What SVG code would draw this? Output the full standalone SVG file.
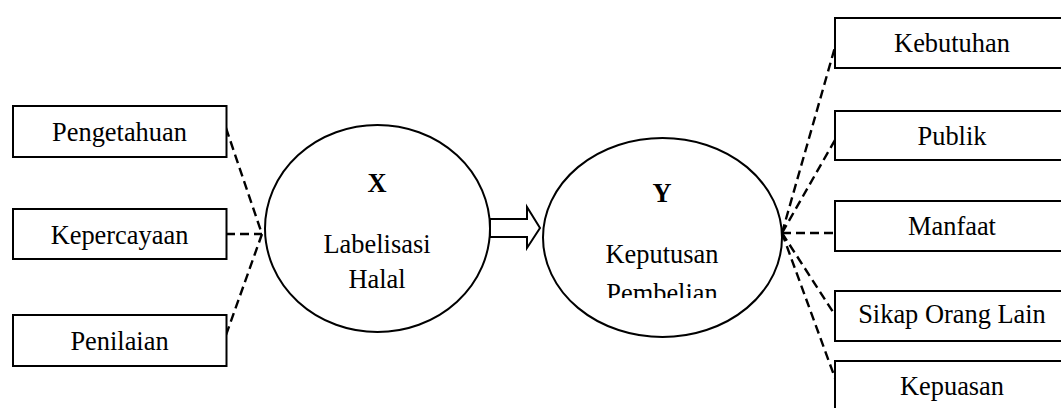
<svg xmlns="http://www.w3.org/2000/svg" width="1061" height="408" viewBox="0 0 1061 408">
  <style>
    .box { fill: #fff; stroke: #000; stroke-width: 2; }
    .oval { fill: #fff; stroke: #000; stroke-width: 2; }
    .lbl { font-family: "Liberation Serif", "Times New Roman", serif; font-size: 26.4px; fill: #000; text-anchor: middle; }
    .bold { font-weight: bold; }
    .dash { fill: none; stroke: #000; stroke-width: 2.4; stroke-dasharray: 9 5; }
    .arrow { fill: #fff; stroke: #000; stroke-width: 2; stroke-linejoin: miter; }
  </style>
  <defs>
    <clipPath id="clipY">
      <rect x="540" y="130" width="250" height="168"/>
    </clipPath>
  </defs>
  <rect width="1061" height="408" fill="#fff"/>

  <!-- connectors -->
  <g id="connectors">
    <path class="dash" d="M226,128 L262,234"/>
    <path class="dash" d="M226,234 L262,234"/>
    <path class="dash" d="M262,234 L226,335"/>
    <path class="dash" d="M782,233 L835,47"/>
    <path class="dash" d="M782,233 L835,140"/>
    <path class="dash" d="M782,233 L835,233"/>
    <path class="dash" d="M782,233 L835,315"/>
    <path class="dash" d="M782,233 L835,378"/>
    <path class="arrow" d="M490,219 L527,219 L527,207 L540,228 L527,248 L527,237 L490,237 Z"/>
  </g>

  <!-- indicators of X -->
  <g id="pengetahuan">
    <rect class="box" x="13" y="106" width="213.5" height="51"/>
    <text class="lbl" x="119.5" y="141">Pengetahuan</text>
  </g>
  <g id="kepercayaan">
    <rect class="box" x="13" y="209" width="213.5" height="50"/>
    <text class="lbl" x="119.5" y="244">Kepercayaan</text>
  </g>
  <g id="penilaian">
    <rect class="box" x="13" y="315" width="213.5" height="51"/>
    <text class="lbl" x="119.5" y="350">Penilaian</text>
  </g>

  <!-- latent variable X -->
  <g id="x-labelisasi-halal">
    <ellipse class="oval" cx="377.5" cy="228.5" rx="112.5" ry="103.5"/>
    <text class="lbl bold" x="377" y="192">X</text>
    <text class="lbl" x="377" y="253">Labelisasi</text>
    <text class="lbl" x="377" y="288">Halal</text>
  </g>

  <!-- latent variable Y -->
  <g id="y-keputusan-pembelian">
    <ellipse class="oval" cx="662.5" cy="237.5" rx="119.5" ry="99.5"/>
    <text class="lbl bold" x="662" y="202">Y</text>
    <text class="lbl" x="662" y="263">Keputusan</text>
    <text class="lbl" x="662" y="302" clip-path="url(#clipY)">Pembelian</text>
  </g>

  <!-- indicators of Y -->
  <g id="kebutuhan">
    <rect class="box" x="835" y="18" width="234" height="50"/>
    <text class="lbl" x="952" y="52">Kebutuhan</text>
  </g>
  <g id="publik">
    <rect class="box" x="835" y="111" width="234" height="49"/>
    <text class="lbl" x="952" y="145">Publik</text>
  </g>
  <g id="manfaat">
    <rect class="box" x="835" y="201" width="234" height="50"/>
    <text class="lbl" x="952" y="235">Manfaat</text>
  </g>
  <g id="sikap-orang-lain">
    <rect class="box" x="835" y="291" width="234" height="50"/>
    <text class="lbl" x="952" y="323">Sikap Orang Lain</text>
  </g>
  <g id="kepuasan">
    <rect class="box" x="835" y="361" width="234" height="60"/>
    <text class="lbl" x="952" y="395">Kepuasan</text>
  </g>
</svg>
